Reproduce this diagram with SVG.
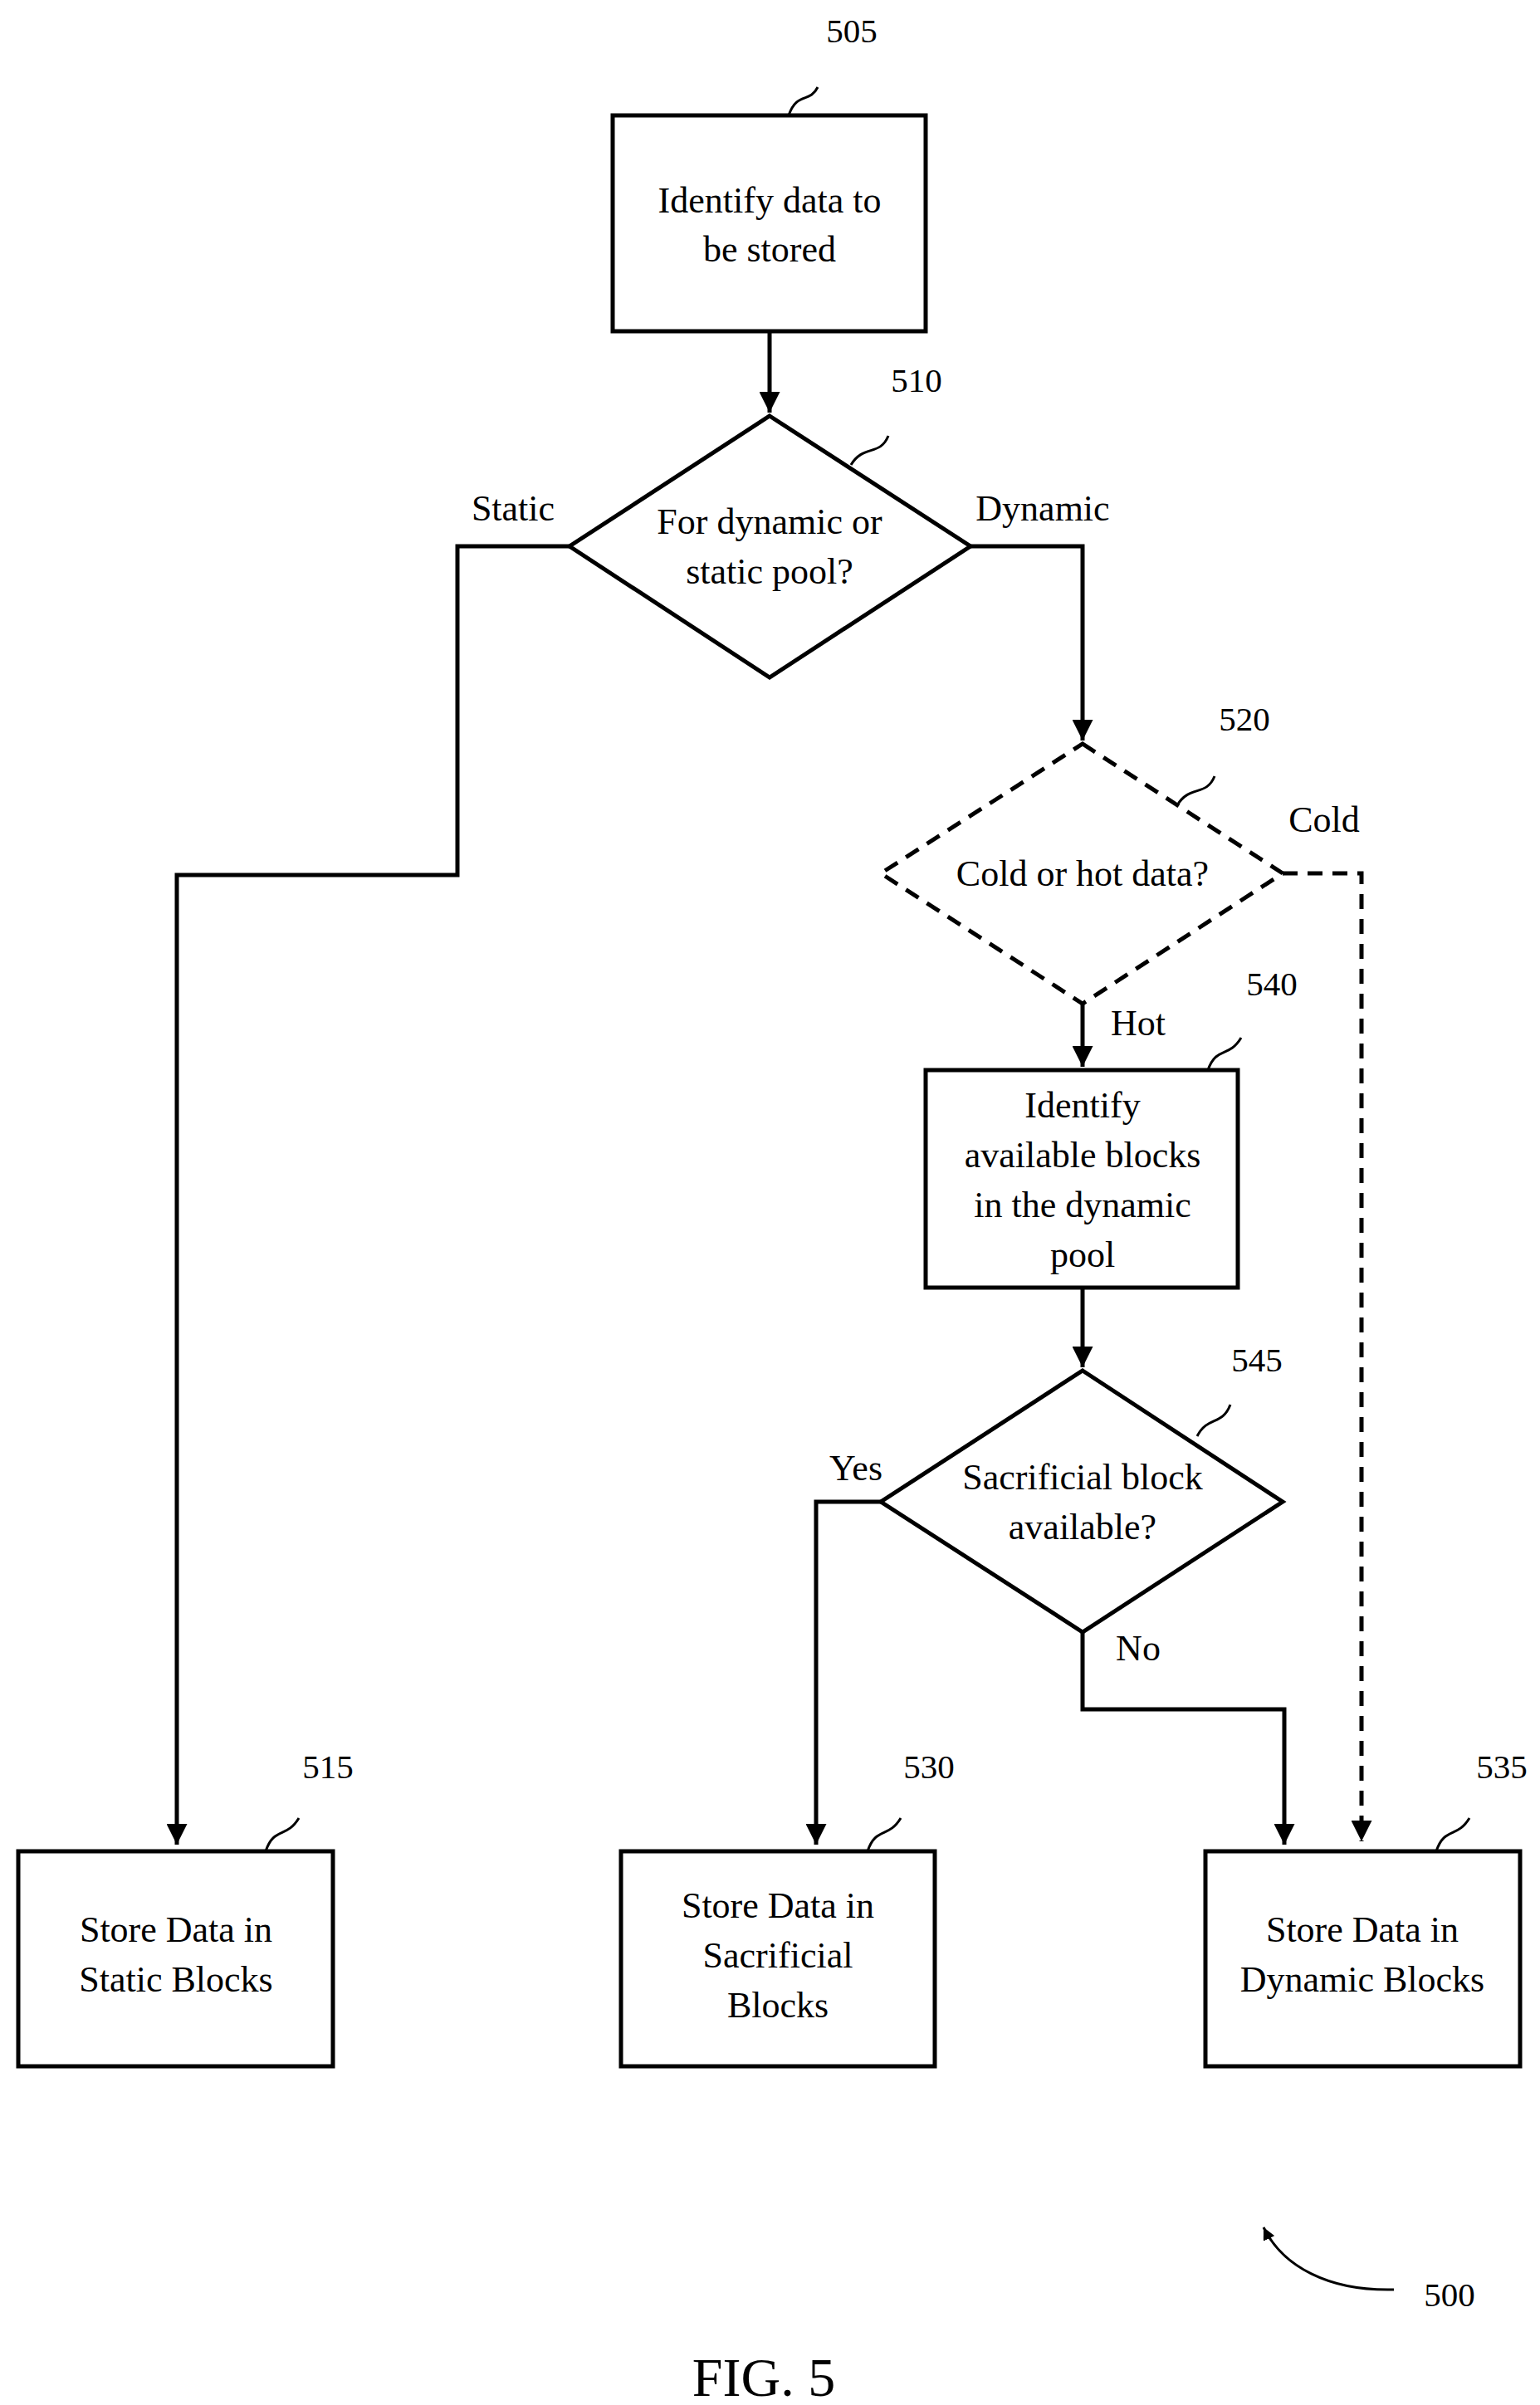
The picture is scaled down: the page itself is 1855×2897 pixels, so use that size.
<svg xmlns="http://www.w3.org/2000/svg" width="1855" height="2897" viewBox="0 0 1855 2897">
<style>
text{font-family:"Liberation Serif",serif;font-size:44px;text-anchor:middle;fill:#000}
.n{font-size:41px}
.s{fill:#fff;stroke:#000;stroke-width:5}
.d{stroke-dasharray:18 12}
.c{fill:none;stroke:#000;stroke-width:5}
.l{fill:none;stroke:#000;stroke-width:3}
</style>
<defs><marker id="a" viewBox="0 0 10 10" refX="10" refY="5" markerWidth="5" markerHeight="5" orient="auto"><path d="M0,0L10,5L0,10z"/></marker></defs>
<rect width="1855" height="2897" fill="#fff"/>
<g id="connectors">
<path class="c" d="M927,399V497" marker-end="url(#a)"/>
<path class="c" d="M686,658H551V1054H213V2222" marker-end="url(#a)"/>
<path class="c" d="M1169,658H1304V892" marker-end="url(#a)"/>
<path class="c d" d="M1545,1052H1640V2218" marker-end="url(#a)"/>
<path class="c" d="M1304,1209V1285" marker-end="url(#a)"/>
<path class="c" d="M1304,1551V1647" marker-end="url(#a)"/>
<path class="c" d="M1061,1809H983V2222" marker-end="url(#a)"/>
<path class="c" d="M1304,1966V2059H1547V2222" marker-end="url(#a)"/>
<text x="618" y="627">Static</text><text x="1256" y="627">Dynamic</text>
<text x="1595" y="1002">Cold</text><text x="1371" y="1247">Hot</text>
<text x="1031" y="1783">Yes</text><text x="1371" y="2000">No</text>
</g>
<g id="n505"><rect class="s" x="738" y="139" width="377" height="260"/><text x="927" y="256">Identify data to</text><text x="927" y="315">be stored</text>
<path class="l" d="M950,139C960,110 975,125 985,105"/><text class="n" x="1026" y="51">505</text></g>
<g id="n510"><path class="s" d="M927,501L1169,658L927,816L686,658z"/><text x="927" y="643">For dynamic or</text><text x="927" y="703">static pool?</text>
<path class="l" d="M1025,560C1040,535 1060,550 1070,525"/><text class="n" x="1104" y="472">510</text></g>
<g id="n520"><path class="s d" d="M1304,896L1545,1052L1304,1209L1061,1052z"/><text x="1304" y="1067">Cold or hot data?</text>
<path class="l" d="M1418,970C1433,945 1453,960 1463,935"/><text class="n" x="1499" y="880">520</text></g>
<g id="n540"><rect class="s" x="1115" y="1289" width="376" height="262"/><text x="1304" y="1346">Identify</text><text x="1304" y="1406">available blocks</text><text x="1304" y="1466">in the dynamic</text><text x="1304" y="1526">pool</text>
<path class="l" d="M1455,1289C1465,1260 1480,1275 1495,1250"/><text class="n" x="1532" y="1199">540</text></g>
<g id="n545"><path class="s" d="M1304,1651L1545,1809L1304,1966L1061,1809z"/><text x="1304" y="1794">Sacrificial block</text><text x="1304" y="1854">available?</text>
<path class="l" d="M1442,1730C1455,1705 1472,1718 1482,1692"/><text class="n" x="1514" y="1652">545</text></g>
<g id="n515"><rect class="s" x="22" y="2230" width="379" height="259"/><text x="212" y="2339">Store Data in</text><text x="212" y="2399">Static Blocks</text>
<path class="l" d="M320,2230C330,2200 345,2215 360,2190"/><text class="n" x="395" y="2142">515</text></g>
<g id="n530"><rect class="s" x="748" y="2230" width="378" height="259"/><text x="937" y="2310">Store Data in</text><text x="937" y="2370">Sacrificial</text><text x="937" y="2430">Blocks</text>
<path class="l" d="M1045,2230C1055,2200 1070,2215 1085,2190"/><text class="n" x="1119" y="2142">530</text></g>
<g id="n535"><rect class="s" x="1452" y="2230" width="379" height="259"/><text x="1641" y="2339">Store Data in</text><text x="1641" y="2399">Dynamic Blocks</text>
<path class="l" d="M1730,2230C1740,2200 1755,2215 1770,2190"/><text class="n" x="1809" y="2142">535</text></g>
<g id="ref500"><path class="l" d="M1679,2758C1600,2760 1545,2730 1522,2683" marker-end="url(#a)"/><text class="n" x="1746" y="2778">500</text></g>
<text x="920" y="2886" style="font-size:66px">FIG. 5</text>
</svg>
